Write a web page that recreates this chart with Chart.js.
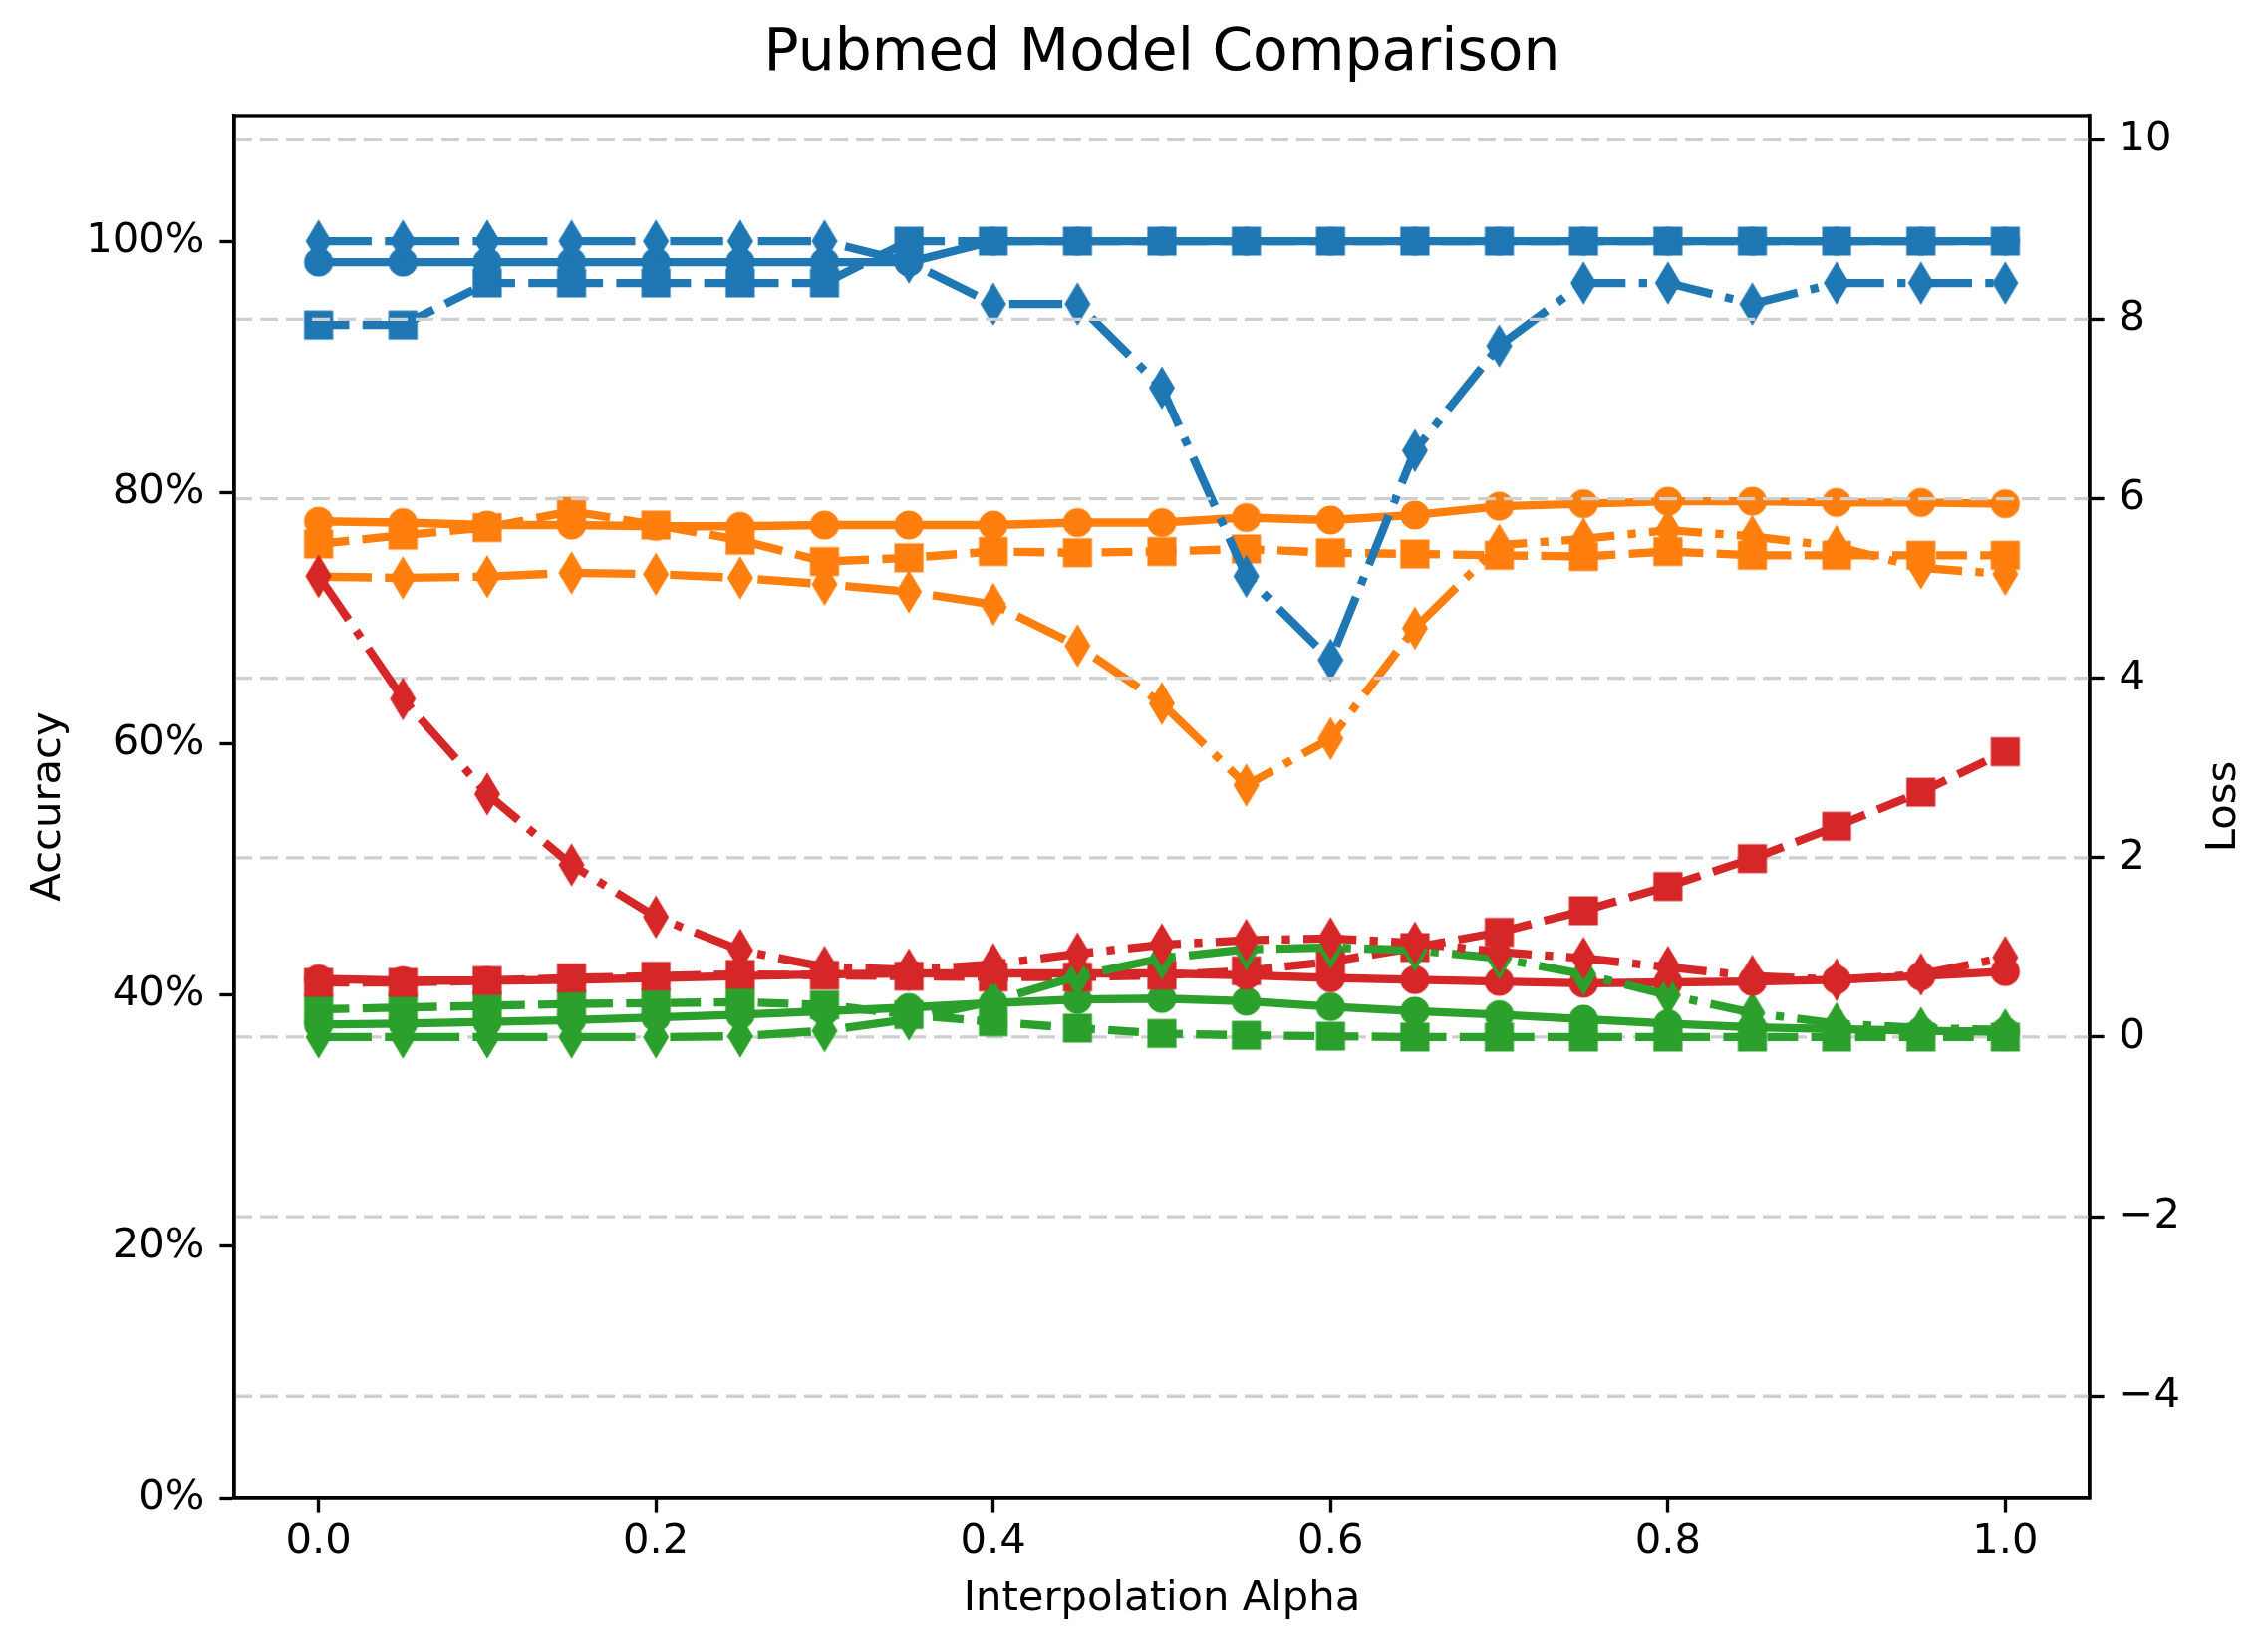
<!DOCTYPE html>
<html><head><meta charset="utf-8">
<script src="https://cdn.jsdelivr.net/npm/chart.js@4.4.1/dist/chart.umd.min.js"></script>
<style>html,body{margin:0;padding:0;background:#fff;}canvas{display:block;}</style>
</head><body>
<canvas id="c" width="2272" height="1658" style="width:2272px;height:1658px"></canvas>
<script>
// ---- data ----
const alpha = [0.00,0.05,0.10,0.15,0.20,0.25,0.30,0.35,0.40,0.45,0.50,0.55,0.60,0.65,0.70,0.75,0.80,0.85,0.90,0.95,1.00];

// Accuracy (%) - left axis
const blueCircle  = [98.33,98.33,98.33,98.33,98.33,98.33,98.33,98.33,100,100,100,100,100,100,100,100,100,100,100,100,100];
const blueSquare  = [93.33,93.33,96.67,96.67,96.67,96.67,96.67,100,100,100,100,100,100,100,100,100,100,100,100,100,100];
const blueDiamond = [100,100,100,100,100,100,100,98.33,95,95,88.33,73.33,66.67,83.33,91.67,96.67,96.67,95,96.67,96.67,96.67];

const orangeCircle  = [77.7,77.6,77.4,77.4,77.3,77.3,77.4,77.4,77.4,77.6,77.6,78.0,77.8,78.2,78.9,79.1,79.3,79.3,79.2,79.2,79.1];
const orangeSquare  = [75.9,76.6,77.2,78.5,77.4,76.2,74.5,74.8,75.3,75.2,75.3,75.5,75.2,75.1,75.0,74.9,75.3,75.0,75.0,75.0,75.0];
const orangeDiamond = [73.3,73.2,73.3,73.6,73.5,73.2,72.7,72.1,71.1,67.8,63.2,56.7,60.4,69.2,75.8,76.3,77.0,76.5,75.7,74.0,73.5];

// Loss - right axis
const greenCircle  = [0.14,0.15,0.17,0.19,0.22,0.25,0.29,0.33,0.38,0.42,0.43,0.40,0.34,0.29,0.25,0.20,0.15,0.11,0.09,0.07,0.06];
const greenSquare  = [0.31,0.33,0.35,0.37,0.38,0.39,0.36,0.25,0.17,0.10,0.04,0.02,0.01,0.0,0.0,0.0,0.0,0.0,0.0,0.0,0.0];
const greenDiamond = [0.0,0.0,0.0,0.0,0.0,0.01,0.07,0.20,0.40,0.68,0.88,0.98,1.00,0.97,0.88,0.70,0.47,0.27,0.15,0.10,0.08];

const redCircle  = [0.65,0.63,0.63,0.64,0.66,0.68,0.70,0.71,0.71,0.71,0.71,0.69,0.66,0.64,0.62,0.60,0.61,0.62,0.64,0.68,0.73];
const redSquare  = [0.61,0.61,0.63,0.66,0.68,0.70,0.69,0.68,0.67,0.67,0.69,0.74,0.84,1.00,1.17,1.41,1.68,1.99,2.35,2.73,3.18];
const redDiamond = [5.14,3.77,2.71,1.92,1.34,0.97,0.78,0.75,0.81,0.93,1.03,1.08,1.10,1.05,0.95,0.88,0.78,0.68,0.64,0.70,0.89];

const xTicks = [0.0,0.2,0.4,0.6,0.8,1.0];
const accTicks = [0,20,40,60,80,100];
const lossTicks = [-4,-2,0,2,4,6,8,10];

// ---- styling ----
const COLORS = {blue:'#1f77b4', orange:'#ff7f0e', green:'#2ca02c', red:'#d62728'};
const LW = 8.33;
const DASH = {o:[], s:[30.8,13.3], d:[53.3,13.3,8.3,13.3]};
const FONT = 'DejaVu Sans';

function makeMarker(shape, color){
  const c = document.createElement('canvas');
  const ew = 4.17;
  let w, h;
  if (shape === 'd') { w = 30; h = 46; } else { w = 32; h = 32; }
  c.width = w; c.height = h;
  const g = c.getContext('2d');
  g.fillStyle = color; g.strokeStyle = color; g.lineWidth = ew; g.lineJoin = 'miter'; g.miterLimit = 10;
  const cx = w/2, cy = h/2;
  g.beginPath();
  if (shape === 'o') {
    g.arc(cx, cy, 12.5, 0, Math.PI*2);
  } else if (shape === 's') {
    g.rect(cx-12.5, cy-12.5, 25, 25);
  } else {
    const hh = 17.7, hw = 10.6;
    g.moveTo(cx, cy-hh); g.lineTo(cx+hw, cy); g.lineTo(cx, cy+hh); g.lineTo(cx-hw, cy); g.closePath();
  }
  g.fill(); g.stroke();
  return c;
}

function series(values, color, shape, axis, k){
  return {
    data: alpha.map((a,i)=>({x:a, y:values[i]})),
    yAxisID: axis, xAxisID: 'x',
    borderColor: COLORS[color], backgroundColor: COLORS[color],
    borderWidth: LW, borderDash: DASH[shape], borderCapStyle: 'butt', borderJoinStyle: 'round',
    pointStyle: makeMarker(shape, COLORS[color]), pointRadius: 15, pointHoverRadius: 15,
    tension: 0, fill: false, order: 100 - k
  };
}

// plot order (first = bottom). Left axis first, then right axis (drawn on top).
const datasets = [
  series(blueCircle,'blue','o','y',0),
  series(orangeCircle,'orange','o','y',1),
  series(blueSquare,'blue','s','y',2),
  series(orangeSquare,'orange','s','y',3),
  series(blueDiamond,'blue','d','y',4),
  series(orangeDiamond,'orange','d','y',5),
  series(greenCircle,'green','o','y2',6),
  series(redCircle,'red','o','y2',7),
  series(greenSquare,'green','s','y2',8),
  series(redSquare,'red','s','y2',9),
  series(greenDiamond,'green','d','y2',10),
  series(redDiamond,'red','d','y2',11)
];

function drawGrid(chart){
  const {ctx, chartArea:a} = chart;
  const s = chart.scales.y2;
  ctx.save();
  ctx.strokeStyle = '#cfcfcf'; ctx.lineWidth = 3.33; ctx.setLineDash([18,8]);
  lossTicks.forEach(v=>{
    const y = s.getPixelForValue(v);
    ctx.beginPath(); ctx.moveTo(a.left, y); ctx.lineTo(a.right, y); ctx.stroke();
  });
  ctx.restore();
}

const customPlugin = {
  id: 'custom',
  beforeDatasetsDraw(chart){ chart.$gridDrawn = false; },
  beforeDatasetDraw(chart, args){
    const ds = chart.data.datasets[args.index];
    if (!chart.$gridDrawn && ds.yAxisID === 'y2') { drawGrid(chart); chart.$gridDrawn = true; }
  },
  afterDatasetsDraw(chart){
    if (!chart.$gridDrawn) { drawGrid(chart); chart.$gridDrawn = true; }
    const {ctx, chartArea:a} = chart;
    ctx.save(); ctx.strokeStyle = '#000'; ctx.lineWidth = 3.33;
    ctx.strokeRect(a.left, a.top, a.right-a.left, a.bottom-a.top);
    ctx.restore();
  },
  afterDraw(chart){
    const {ctx, chartArea:a} = chart;
    ctx.save();
    ctx.translate(2232, (a.top+a.bottom)/2);
    ctx.rotate(-Math.PI/2);
    ctx.font = '41.7px "DejaVu Sans"'; ctx.fillStyle = '#000';
    ctx.textAlign = 'center'; ctx.textBaseline = 'middle';
    ctx.fillText('Loss', 0, 0);
    ctx.restore();
  }
};

const tickFont = {family: FONT, size: 41.7};
const gridOpts = {display:true, drawOnChartArea:false, drawTicks:true, tickLength:14.6, tickWidth:3.33, tickColor:'#000'};

new Chart(document.getElementById('c'), {
  type: 'line',
  data: {datasets},
  plugins: [customPlugin],
  options: {
    responsive: false, animation: false, devicePixelRatio: 1, events: [],
    layout: {padding: 0},
    plugins: {
      legend: {display:false}, tooltip: {enabled:false},
      title: {display:true, text:'Pubmed Model Comparison', fullSize:false, color:'#000',
        font:{family:FONT, size:58.3, weight:'normal'}, padding:{top:19.8, bottom:26.2}}
    },
    scales: {
      x: {
        type:'linear', position:'bottom', min:-0.05, max:1.05,
        afterFit(s){ s.height = 155; },
        afterBuildTicks(s){ s.ticks = xTicks.map(v=>({value:v})); },
        ticks:{font:tickFont, color:'#000', padding:5.4, autoSkip:false, maxRotation:0, minRotation:0,
          callback:(v)=>Number(v).toFixed(1)},
        grid: gridOpts,
        border:{display:true, color:'#000', width:3.33},
        title:{display:true, text:'Interpolation Alpha', color:'#000', font:{family:FONT, size:41.7}, padding:{top:0, bottom:28}}
      },
      y: {
        type:'linear', position:'left', min:0, max:110,
        afterFit(s){ s.width = 235; },
        afterBuildTicks(s){ s.ticks = accTicks.map(v=>({value:v})); },
        ticks:{font:tickFont, color:'#000', padding:15, callback:(v)=>v+'%'},
        grid: gridOpts,
        border:{display:true, color:'#000', width:3.33},
        title:{display:true, text:'Accuracy', color:'#000', font:{family:FONT, size:41.7}, padding:{top:24, bottom:0}}
      },
      y2: {
        type:'linear', position:'right', min:-5.13, max:10.27,
        afterFit(s){ s.width = 175; },
        afterBuildTicks(s){ s.ticks = lossTicks.map(v=>({value:v})); },
        ticks:{font:tickFont, color:'#000', padding:15, callback:(v)=> (v<0 ? '\u2212'+Math.abs(v) : String(v))},
        grid: gridOpts,
        border:{display:true, color:'#000', width:3.33}
      }
    }
  }
});
</script>
</body></html>
